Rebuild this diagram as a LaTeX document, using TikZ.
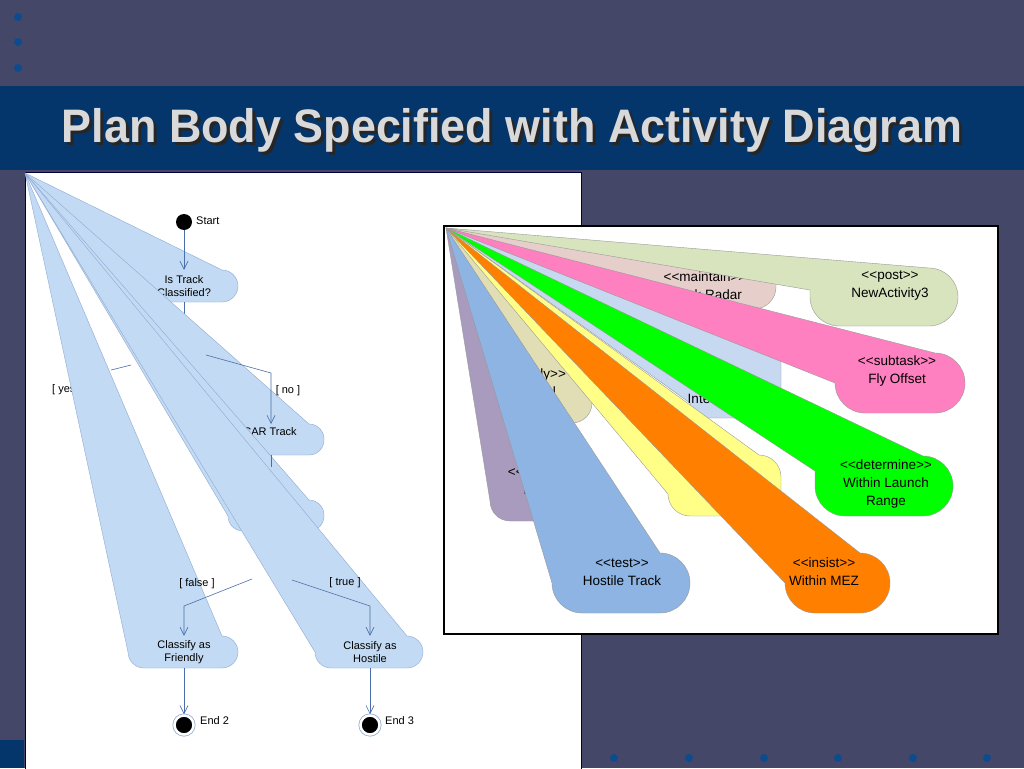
\documentclass[tikz,border=0pt]{standalone}
\usepackage{fontspec}
\setmainfont{Liberation Sans}
\usetikzlibrary{arrows.meta}
\definecolor{slate}{HTML}{454769}
\definecolor{bandblue}{HTML}{04366B}
\definecolor{dotblue}{HTML}{0B4C8E}
\definecolor{titlegray}{HTML}{D9D9D9}
\definecolor{actfill}{HTML}{C2DAF3}
\definecolor{actline}{HTML}{8FAAD2}
\definecolor{flowblue}{HTML}{4A6EA8}
\definecolor{postgreen}{HTML}{D7E4BD}
\definecolor{maintpink}{HTML}{E6CFCB}
\definecolor{intblue}{HTML}{C6D9F1}
\definecolor{subpink}{HTML}{FF80C0}
\definecolor{detgreen}{HTML}{00FF00}
\definecolor{yellowbox}{HTML}{FFFF88}
\definecolor{khaki}{HTML}{E1DDB4}
\definecolor{insistorange}{HTML}{FF8000}
\definecolor{purplebox}{HTML}{A89BBE}
\definecolor{testblue}{HTML}{8DB4E2}
\newcommand{\stereo}[1]{<{}<#1>{}>}
\newcommand{\slidetitle}{\scalebox{0.955}[1]{Plan Body Specified with Activity Diagram}}
% box whose left side is pulled into the apex: apex, left, top, right, bottom, radius, join height
\newcommand{\fanbox}[8][]{%
  \path[fanshape,#1] (#2) -- ({#5-#7},#4)
    .. controls ({#5-0.45*#7},#4) and (#5,{#4+0.45*#7}) .. (#5,{#4+#7})
    -- (#5,{#6-#7})
    .. controls (#5,{#6-0.45*#7}) and ({#5-0.45*#7},#6) .. ({#5-#7},#6)
    -- ({#3+#7},#6)
    .. controls ({#3+0.45*#7},#6) and (#3,{#6-0.45*#7}) .. (#3,{#6-#7})
    -- (#3,#8) -- cycle;}
\tikzset{
  fanshape/.style={line width=0.4pt, line join=round},
  actfan/.style={fanshape, fill=actfill, draw=actline},
  usefan/.style={fanshape, draw=black!40},
  acttext/.style={font=\fontsize{11}{13.5}\selectfont, align=center, inner sep=0pt, text=black},
  actnode/.style={acttext, minimum height=32pt, minimum width=20pt},
  guard/.style={font=\fontsize{11}{13}\selectfont, text=black, inner sep=0pt},
  uselabel/.style={font=\fontsize{13.5}{18}\selectfont, align=center, inner sep=0pt, text=black},
  titletext/.style={font=\fontsize{47}{52}\selectfont\bfseries, inner sep=0pt},
  flow/.style={draw=flowblue, line width=0.6pt, -{Straight Barb[length=8pt,width=8pt]}},
  flowline/.style={draw=flowblue, line width=0.6pt},
  startdot/.style={circle, fill=black, minimum size=16pt, inner sep=0pt},
  enddot/.style={circle, fill=black, draw=white, line width=2.5pt, minimum size=19pt,
                 inner sep=0pt, preaction={draw=actline, line width=4pt}},
  bullet/.style={circle, fill=dotblue, minimum size=8pt, inner sep=0pt}}

\begin{document}
\begin{tikzpicture}[x=1pt, y=-1pt]
  \useasboundingbox (0,0) rectangle (1024,768);
  \fill[slate] (0,0) rectangle (1024,768);
  \fill[bandblue] (0,86) rectangle (1024,170);
  \fill[bandblue] (0,740) rectangle (24,768);
  \foreach \y [count=\i] in {17,42,68}
    \node[bullet] (dot-l\i) at (18,\y) {};
  \foreach \x [count=\i] in {614,689,764,838,913,987}
    \node[bullet] (dot-b\i) at (\x,758) {};

  % title with its drop shadow
  \node[titletext, text=black!85] (title-shadow) at (515,133) {\slidetitle};
  \node[titletext, text=titlegray] (title) at (512,130) {\slidetitle};

  % activity diagram panel
  \path[fill=white, draw=black!75!blue, line width=1pt] (25,172) rectangle (581,772);
  \coordinate (apexL) at (25,173);
  \fanbox[actfan]{apexL}{130}{270}{238}{302}{16}{286}
  \node[startdot] (start) at (184,222) {};
  \node[guard, anchor=west] (start-lbl) at (196,221) {Start};
  \node[actnode] (istrack) at (184,286) {Is Track\\Classified?};
  \draw[flow] (start) -- (istrack);
  \coordinate (dec1) at (184,315);
  \draw[flowline] (istrack) -- (dec1);

  \fanbox[actfan]{apexL}{215}{424}{324}{455}{15}{440}
  \node[acttext] (car) at (270,432) {CAR Track};
  \coordinate (no-a) at (206,355);
  \coordinate (no-b) at (271,373);
  \coordinate (car-in) at (271,424);
  \draw[flow] (no-a) -- (no-b) -- (car-in);
  \node[guard] (no-lbl) at (288,391) {[ no ]};
  \node[guard, anchor=west] (yes-lbl) at (52,390) {[ yes ]};
  \coordinate (yes-a) at (131,365);
  \coordinate (yes-b) at (111,370);
  \draw[flowline] (yes-a) -- (yes-b);

  \fanbox[actfan]{apexL}{228}{500}{324}{531}{15}{516}
  \coordinate (car-out) at (271,455);
  \coordinate (car-down) at (271,467);
  \draw[flowline] (car-out) -- (car-down);

  \fanbox[actfan]{apexL}{315}{636}{423}{668}{16}{652}
  \fanbox[actfan]{apexL}{128}{636}{238}{668}{16}{652}
  \node[actnode] (friendly) at (184,652) {Classify as\\Friendly};
  \node[actnode] (hostile) at (370,652) {Classify as\\Hostile};
  \coordinate (false-a) at (252,579);
  \coordinate (false-b) at (184,606);
  \draw[flow] (false-a) -- (false-b) -- (friendly);
  \coordinate (true-a) at (292,580);
  \coordinate (true-b) at (370,606);
  \draw[flow] (true-a) -- (true-b) -- (hostile);
  \node[guard] (false-lbl) at (197,584) {[ false ]};
  \node[guard] (true-lbl) at (345,583) {[ true ]};
  \node[enddot] (end2) at (184,725) {};
  \node[enddot] (end3) at (370,725) {};
  \draw[flow] (friendly) -- (end2);
  \draw[flow] (hostile) -- (end3);
  \node[guard, anchor=west] (end2-lbl) at (200,721) {End 2};
  \node[guard, anchor=west] (end3-lbl) at (385,721) {End 3};

  % stereotype panel
  \fill[white] (444,226) rectangle (998,634);
  \coordinate (apexR) at (446,228);
  \fanbox[usefan, fill=maintpink]{apexR}{660}{262}{776}{309}{22}{287}
  \node[uselabel] (maintain) at (705,286) {\stereo{maintain}\\Track Radar};
  \fanbox[usefan, fill=postgreen]{apexR}{810}{268}{958}{326}{29}{290}
  \node[uselabel] (post) at (890,286) {\stereo{post}\\NewActivity3};
  \fanbox[usefan, fill=intblue]{apexR}{690}{345}{781}{418}{15}{403}
  \node[uselabel] (intercept) at (714,400) {Intercept};
  \fanbox[usefan, fill=subpink]{apexR}{835}{353}{965}{413}{30}{383}
  \node[uselabel] (subtask) at (897,371) {\stereo{subtask}\\Fly Offset};
  \fanbox[usefan, fill=detgreen]{apexR}{815}{456}{953}{516}{30}{471}
  \node[uselabel] (determine) at (886,484) {\stereo{determine}\\Within Launch\\Range};
  \fanbox[usefan, fill=khaki]{apexR}{520}{352}{592}{423}{20}{403}
  \node[uselabel] (apply) at (534,383) {\stereo{apply}\\Control};
  \fanbox[usefan, fill=yellowbox]{apexR}{668}{455}{781}{516}{22}{494}
  \fanbox[usefan, fill=insistorange]{apexR}{785}{553}{890}{613}{30}{583}
  \node[uselabel] (insist) at (824,572) {\stereo{insist}\\Within MEZ};
  \fanbox[usefan, fill=purplebox]{apexR}{490}{450}{600}{521}{20}{501}
  \node[uselabel] (perform) at (547,482) {\stereo{perform}\\Engage};
  \fanbox[usefan, fill=testblue]{apexR}{552}{553}{690}{613}{30}{583}
  \node[uselabel] (test) at (622,572) {\stereo{test}\\Hostile Track};
  \draw[line width=1.5pt] (444,226) rectangle (998,634);
\end{tikzpicture}
\end{document}
